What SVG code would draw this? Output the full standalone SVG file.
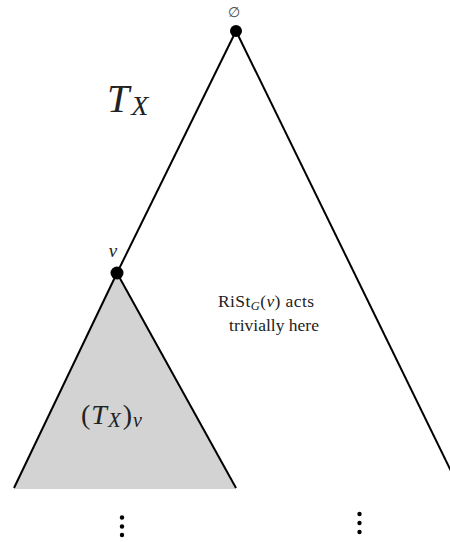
<svg xmlns="http://www.w3.org/2000/svg" width="450" height="542" viewBox="0 0 450 542">
<style>
.edge{stroke:#000;stroke-width:2;fill:none;stroke-linecap:butt}
.node{fill:#000}
.tx{font-family:"Liberation Serif","DejaVu Serif",serif;fill:#222}
.it{font-style:italic}
.dot{fill:#000}
</style>
<rect width="450" height="542" fill="#fff"/>
<g id="subtree">
<polygon points="117,273 14,489 236,489" fill="#d3d3d3"/>
<text class="tx" x="81" y="424" font-size="28">(<tspan class="it" dx="1">T</tspan><tspan class="it" font-size="21" dy="3" dx="1">X</tspan><tspan dy="-3" dx="2">)</tspan><tspan class="it" font-size="20" dy="3" dx="1">v</tspan></text>
</g>
<g id="connectors">
<line class="edge" x1="236" y1="31" x2="117" y2="273"/>
<line class="edge" x1="236" y1="31" x2="451" y2="471"/>
<line class="edge" x1="117" y1="273" x2="14" y2="488"/>
<line class="edge" x1="117" y1="273" x2="236" y2="488"/>
</g>
<g id="root">
<circle class="node" cx="236" cy="31" r="6"/>
<text x="234" y="17" font-size="14" text-anchor="middle" font-family="DejaVu Sans, sans-serif" fill="#444">∅</text>
</g>
<g id="v">
<circle class="node" cx="117" cy="273" r="6.5"/>
<text class="tx it" x="113" y="257" font-size="19" text-anchor="middle">v</text>
</g>
<g id="label-TX">
<text class="tx" x="107" y="112" font-size="40"><tspan class="it">T</tspan><tspan class="it" font-size="28" dy="3" dx="2">X</tspan></text>
</g>
<g id="label-rist">
<text class="tx" x="218" y="307" font-size="17.5" letter-spacing="0.4">RiSt<tspan class="it" font-size="12.5" dy="3">G</tspan><tspan dy="-3">(</tspan><tspan class="it">v</tspan>) acts</text>
<text class="tx" x="274" y="331" font-size="17.5" text-anchor="middle">trivially here</text>
</g>
<g id="dots-left">
<circle class="dot" cx="122" cy="517.5" r="2.2"/>
<circle class="dot" cx="122" cy="526.5" r="2.2"/>
<circle class="dot" cx="122" cy="535" r="2.2"/>
</g>
<g id="dots-right">
<circle class="dot" cx="359.5" cy="514" r="2.2"/>
<circle class="dot" cx="359.5" cy="523" r="2.2"/>
<circle class="dot" cx="359.5" cy="532" r="2.2"/>
</g>
</svg>
